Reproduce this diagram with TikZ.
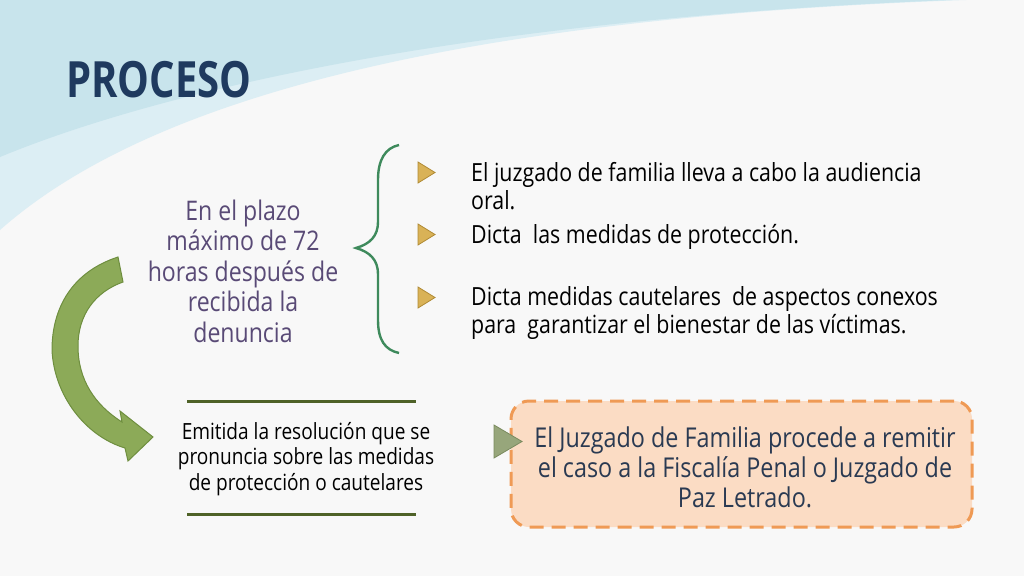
\documentclass[tikz,border=0pt]{standalone}
\usepackage{fontspec}
\setmainfont{Open Sans}[FakeStretch=0.855]
\newfontfamily\titlefont{Open Sans}[FakeStretch=0.8]
\usetikzlibrary{positioning}

\definecolor{pagebg}{HTML}{F8F8F8}
\definecolor{skydark}{HTML}{C8E4EC}
\definecolor{skylight}{HTML}{DCEEF4}
\definecolor{titleblue}{HTML}{1F3A5F}
\definecolor{plazopurple}{HTML}{594A76}
\definecolor{bracegreen}{HTML}{3E8A5C}
\definecolor{bulletgold}{HTML}{D9B257}
\definecolor{bulletedge}{HTML}{B08A34}
\definecolor{arrowgreen}{HTML}{8CAA58}
\definecolor{arrowedge}{HTML}{6E8E3F}
\definecolor{ruleolive}{HTML}{4F6228}
\definecolor{boxpeach}{HTML}{FBDCC4}
\definecolor{boxorange}{HTML}{EF9A55}
\definecolor{boxtext}{HTML}{2A3A52}
\definecolor{triggray}{HTML}{97A67B}
\definecolor{trigedge}{HTML}{7A8A5E}

\tikzset{
  bullet/.style={fill=bulletgold, draw=bulletedge, line width=0.8pt},
  itemtext/.style={anchor=west, align=left, inner sep=0pt, font=\fontsize{25}{28.5}\selectfont},
}

\begin{document}
\begin{tikzpicture}[x=1pt, y=-1pt]
    \useasboundingbox (0,0) rectangle (1024,576);
    % background swoosh
    \fill[pagebg] (0,0) rectangle (1024,576);
    \fill[skylight] (0,0) -- (0,230) .. controls (130,115) and (400,20) .. (966,0) -- cycle;
    \fill[skydark] (0,0) -- (0,157) .. controls (150,95) and (450,20) .. (950,0) -- cycle;

    \node (title) [anchor=west, inner sep=0pt, text=titleblue, font=\titlefont\bfseries\fontsize{50}{50}\selectfont] at (66,80) {PROCESO};

    % plazo
    \node (plazo) [align=center, inner sep=0pt, text=plazopurple, font=\fontsize{27}{30.5}\selectfont] at (243,271) {En el plazo\\máximo de 72\\horas después de\\recibida la\\denuncia};

    % brace
    \draw[bracegreen, line width=2.4pt] (399,145) .. controls (385,148) and (378,160) .. (378,180)
        -- (378,222) .. controls (378,236) and (370,244) .. (356,248)
        .. controls (370,252) and (378,260) .. (378,274)
        -- (378,320) .. controls (378,340) and (385,350) .. (399,353);

    % bullets
    \draw[bullet] (418,162) -- (435,172.5) -- (418,183) -- cycle;
    \draw[bullet] (418,224) -- (435,234.5) -- (418,245) -- cycle;
    \draw[bullet] (418,287) -- (435,297.5) -- (418,308) -- cycle;
    \node (item1) [itemtext] at (471,186) {El juzgado de familia lleva a cabo la audiencia\\oral.};
    \node (item2) [itemtext] at (471,237) {Dicta\ \ las medidas de protección.};
    \node (item3) [itemtext] at (471,313) {Dicta medidas cautelares\ \ de aspectos conexos\\para\ \ garantizar el bienestar de las víctimas.};

    % curved arrow
    \draw[fill=arrowgreen, draw=arrowedge, line width=1pt]
        (118,257) .. controls (72,272) and (52,308) .. (52,350)
        .. controls (54,395) and (85,436) .. (125,448)
        -- (128,461) -- (153,437) -- (120,411) -- (122,422)
        .. controls (95,405) and (78,380) .. (78,346)
        .. controls (78,315) and (95,292) .. (123,282) -- cycle;

    % resolucion
    \node (resol) [align=center, inner sep=0pt, font=\fontsize{22.3}{25.5}\selectfont] at (306,459) {Emitida la resolución que se\\pronuncia sobre las medidas\\de protección o cautelares};
    \draw[ruleolive, line width=3pt] (187,401) -- (416,401);
    \draw[ruleolive, line width=3pt] (187,514) -- (416,514);

    % remitir box
    \node (remitir) [draw=boxorange, fill=boxpeach, line width=3pt, dash pattern=on 14pt off 8pt,
        rounded corners=18pt, minimum width=461pt, minimum height=126pt, inner sep=0pt] at (741.5,464) {};
    \node (remtext) [align=center, inner sep=0pt, text=boxtext, font=\fontsize{27.3}{30}\selectfont] at (745,467) {El Juzgado de Familia procede a remitir\\el caso a la Fiscalía Penal o Juzgado de\\Paz Letrado.};
    \draw[fill=triggray, draw=trigedge, line width=0.8pt] (494,425) -- (522,441.5) -- (494,458) -- cycle;
\end{tikzpicture}
\end{document}
